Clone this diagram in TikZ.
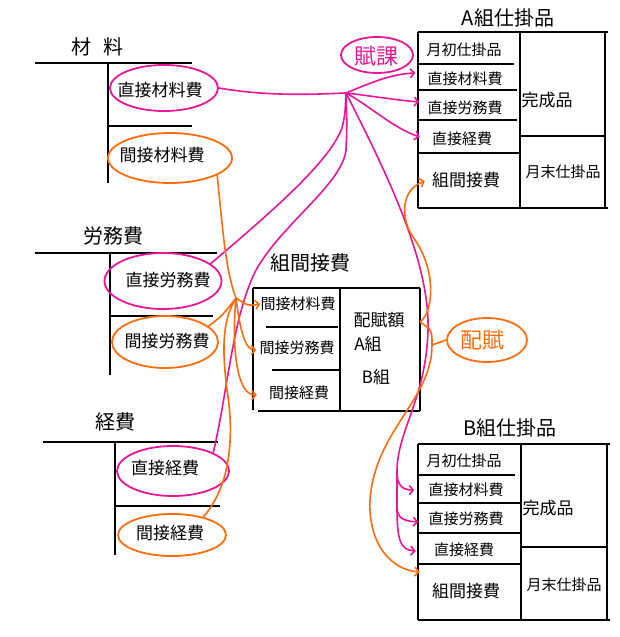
\documentclass[tikz,border=0pt]{standalone}
\usepackage{fontspec}
\newfontfamily\jp{Noto Sans CJK JP}
\usetikzlibrary{arrows.meta,shapes.geometric,calc}
\definecolor{pk}{RGB}{234,22,152}
\definecolor{og}{RGB}{255,108,14}
\begin{document}
\begin{tikzpicture}[x=1pt,y=-1pt,
  ln/.style={line width=2.3pt,black},
  lbl/.style={font=\jp\fontsize{17}{17}\selectfont,inner sep=0pt},
  sml/.style={font=\jp\fontsize{15}{15}\selectfont,inner sep=0pt},
  ttl/.style={font=\jp\fontsize{20}{20}\selectfont,inner sep=0pt},
  big/.style={font=\jp\fontsize{22}{22}\selectfont,inner sep=0pt},
  pell/.style={ellipse,draw=pk,line width=1.8pt,inner sep=0pt},
  oell/.style={ellipse,draw=og,line width=1.8pt,inner sep=0pt},
  pline/.style={draw=pk,line width=1.6pt},
  oline/.style={draw=og,line width=1.6pt},
  parr/.style={pline,-{Straight Barb[length=4pt,width=9pt]}},
  oarr/.style={oline,-{Straight Barb[length=4pt,width=9pt]}}]
\fill[white] (0,0) rectangle (620,637);
\useasboundingbox (0,0) rectangle (620,637);

% ---------- 材料 ----------
\node[ttl] (tz) at (97,47) {材\hspace{12pt}料};
\draw[ln] (35,63) -- (192,63);
\draw[ln] (108,63) -- (108,183);
\draw[ln] (108,126) -- (192,126);
\node[lbl] (zd) at (160,90) {直接材料費};
\node[pell,minimum width=108pt,minimum height=46pt] (ezd) at (164,88) {};
\node[lbl] (zi) at (162,155) {間接材料費};
\node[oell,minimum width=124pt,minimum height=50pt] (ezi) at (170,158) {};

% ---------- 労務費 ----------
\node[ttl] (tr) at (113,236) {労務費};
\draw[ln] (35,253) -- (217,253);
\draw[ln] (110,253) -- (110,375);
\draw[ln] (110,316) -- (213,316);
\node[lbl] (rd) at (168,280) {直接労務費};
\node[pell,minimum width=117pt,minimum height=56pt] (erd) at (163,281) {};
\node[lbl] (ri) at (167,341) {間接労務費};
\node[oell,minimum width=106pt,minimum height=52pt] (eri) at (165,342) {};

% ---------- 経費 ----------
\node[ttl] (tk) at (115,422) {経費};
\draw[ln] (43,442) -- (218,442);
\draw[ln] (115,442) -- (115,555);
\draw[ln] (115,506) -- (220,506);
\node[lbl] (kd) at (165,468) {直接経費};
\node[pell,minimum width=112pt,minimum height=50pt] (eke) at (173,471) {};
\node[lbl] (ki) at (170,533) {間接経費};
\node[oell,minimum width=108pt,minimum height=42pt] (eki) at (172,535) {};

% ---------- 組間接費 ----------
\node[ttl] (tg) at (310,263) {組間接費};
\draw[ln] (253,288) -- (420,288);
\draw[ln] (253,288) -- (253,410);
\draw[ln] (258,411) -- (420,411);
\draw[ln] (420,288) -- (420,411);
\draw[ln] (340,288) -- (340,411);
\draw[ln] (266,327) -- (338,327);
\draw[ln] (272,370) -- (339,370);
\node[sml] (kzi) at (298,304) {間接材料費};
\node[sml] (kri) at (297,348) {間接労務費};
\node[sml] (kke) at (299,393) {間接経費};
\node[lbl] (hk) at (379,320) {配賦額};
\node[lbl] (hka) at (368,344) {A組};
\node[lbl] (hkb) at (376,377) {B組};

% ---------- A組仕掛品 ----------
\node[ttl] (ta) at (508,18) {A組仕掛品};
\draw[ln] (418,32) -- (608,32);
\draw[ln] (418,32) -- (418,208);
\draw[ln] (605,32) -- (605,208);
\draw[ln] (418,208) -- (608,208);
\draw[ln] (520,32) -- (520,208);
\draw[ln] (418,64) -- (514,64);
\draw[ln] (418,90) -- (517,90);
\draw[ln] (418,120) -- (517,120);
\draw[ln] (418,153) -- (520,153);
\draw[ln] (520,136) -- (605,136);
\node[sml] (asz) at (464,50) {月初仕掛品};
\node[sml] (azd) at (465,79) {直接材料費};
\node[sml] (alr) at (465,108) {直接労務費};
\node[sml] (ake) at (462,139) {直接経費};
\node[lbl] (akk) at (466,180) {組間接費};
\node[lbl] (akh) at (547,100) {完成品};
\node[sml] (amt) at (563,172) {月末仕掛品};

% ---------- B組仕掛品 ----------
\node[ttl] (tb) at (510,428) {B組仕掛品};
\draw[ln] (418,444) -- (610,444);
\draw[ln] (418,444) -- (418,620);
\draw[ln] (607,444) -- (607,620);
\draw[ln] (418,620) -- (610,620);
\draw[ln] (521,444) -- (521,620);
\draw[ln] (418,475) -- (515,475);
\draw[ln] (418,503) -- (520,503);
\draw[ln] (418,533) -- (520,533);
\draw[ln] (418,564) -- (522,564);
\draw[ln] (521,547) -- (607,547);
\node[sml] (bsz) at (464,461) {月初仕掛品};
\node[sml] (bzd) at (466,490) {直接材料費};
\node[sml] (blr) at (466,519) {直接労務費};
\node[sml] (bke) at (464,550) {直接経費};
\node[lbl] (bkk) at (466,591) {組間接費};
\node[lbl] (bkh) at (548,508) {完成品};
\node[sml] (bmt) at (564,585) {月末仕掛品};

% ---------- 賦課 / 配賦 labels ----------
\node[big,text=pk] (fk) at (376,56) {賦課};
\node[pell,minimum width=72pt,minimum height=36pt] (efk) at (377,55) {};
\node[big,text=og] (hf) at (482,340) {配賦};
\node[oell,minimum width=80pt,minimum height=44pt] (ehf) at (487,340) {};

% ---------- pink (賦課) connectors ----------
\coordinate (H) at (346,93);
\draw[pline] (ezd.east) .. controls (270,97) and (320,94) .. (H);
\draw[parr] (H) .. controls (368,84) and (390,74) .. ($(azd.west)+(-12,-6)$);
\draw[parr] (H) .. controls (372,96) and (395,100) .. ($(alr.west)+(-8,-6)$);
\draw[parr] (H) .. controls (370,106) and (393,128) .. ($(ake.west)+(-12,-2)$);
\draw[pline] (erd.20) .. controls (280,205) and (330,160) .. (342,128) .. controls (345,115) .. (H);
\draw[pline] (eke.north east) .. controls (228,390) and (232,320) .. (255,272)
   .. controls (280,225) and (342,185) .. (346,150) .. controls (347,125) .. (H);
\coordinate (pb1) at (397,472);
\coordinate (pb2) at (397,506);
\draw[parr] (H) .. controls (385,170) and (430,260) .. (428,330)
   .. controls (426,400) and (397,430) .. (pb1) -- (pb2)
   .. controls (397,540) and (400,550) .. ($(bke.west)+(-18,1)$);
\draw[parr] (pb1) .. controls (397,486) and (403,490) .. ($(bzd.west)+(-14,0)$);
\draw[parr] (pb2) .. controls (397,518) and (403,521) .. ($(blr.west)+(-10,3)$);

% ---------- orange (配賦) connectors ----------
\coordinate (J) at (236,298);
\draw[oline] (ezi.-20) .. controls (222,220) and (225,270) .. (J);
\draw[oline] (eri.20) .. controls (222,316) .. (J);
\draw[oline] (eki.30) .. controls (236,480) and (232,420) .. (227,390) .. controls (222,350) and (222,320) .. (J);
\draw[oarr] (J) .. controls (248,306) .. (kzi.west);
\draw[oarr] (J) .. controls (240,330) and (245,350) .. ($(kri.west)+(-3,2)$);
\draw[oarr] (J) .. controls (232,340) and (235,395) .. ($(kke.west)+(-12,2)$);

\coordinate (pa) at (420,322);
\coordinate (pb) at (432,345);
\draw[oarr] (pa) .. controls (434,312) and (436,270) .. (415,240)
   .. controls (400,220) and (400,190) .. ($(akk.west)+(-7,1)$);
\draw[oarr] (pa) .. controls (432,330) .. (pb)
   .. controls (432,400) and (375,430) .. (370,500)
   .. controls (368,545) and (392,570) .. ($(bkk.west)+(-12,-19)$);
\draw[oline] (pb) -- (ehf.west);
\end{tikzpicture}
\end{document}
